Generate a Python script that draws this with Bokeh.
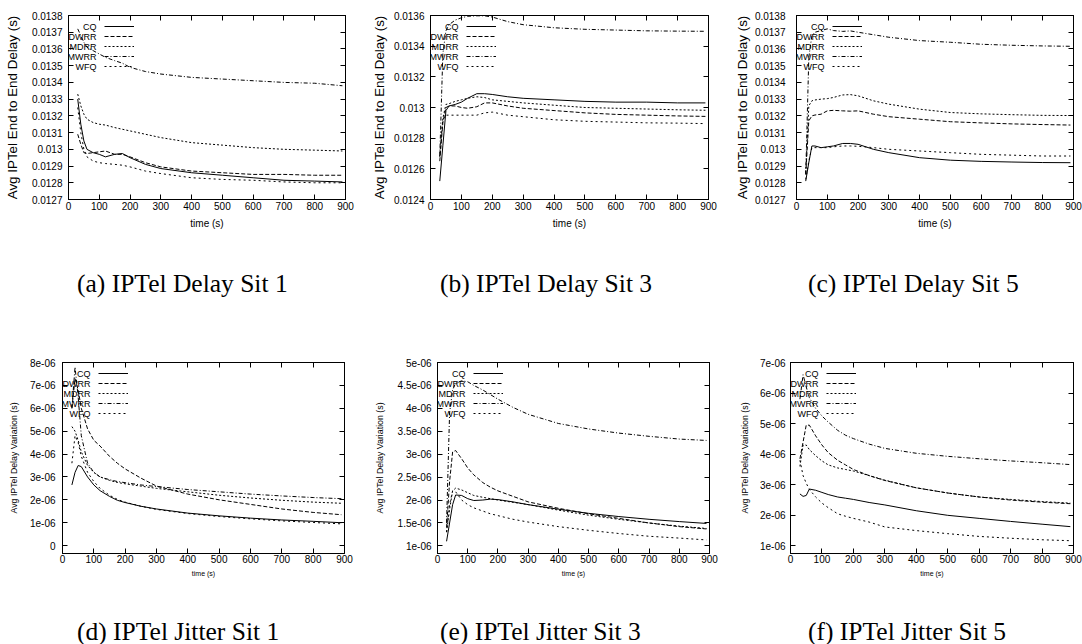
from bokeh.plotting import figure
from bokeh.models import (FixedTicker, LinearAxis, Range1d, Div, CustomJSTickFormatter,
                          Legend, LegendItem, Label)
from bokeh.core.properties import value
from bokeh.layouts import row, column
from bokeh.embed import file_html
from bokeh.resources import INLINE

# ---------------- data ----------------
X_GRID = [30, 40, 50, 60, 80, 100, 120, 150, 175, 200, 250, 300, 400, 500, 600, 700, 800, 890]

# (a) IPTel Delay Sit 1
A_CQ   = [0.01330, 0.01315, 0.01305, 0.01300, 0.01298, 0.01297, 0.012955, 0.01297, 0.012975, 0.01295, 0.01291, 0.012885, 0.01286, 0.012845, 0.01283, 0.012815, 0.01281, 0.012805]
A_DWRR = [0.01309, 0.01303, 0.01298, 0.012975, 0.01298, 0.012985, 0.01299, 0.01297, 0.01297, 0.012955, 0.01292, 0.012895, 0.01287, 0.01286, 0.01285, 0.01285, 0.012845, 0.012845]
A_MDRR = [0.01333, 0.01326, 0.01321, 0.01318, 0.01316, 0.01315, 0.013145, 0.01313, 0.01312, 0.01311, 0.01309, 0.01307, 0.01304, 0.013025, 0.01301, 0.01300, 0.012995, 0.01299]
A_MWRR = [0.01372, 0.01368, 0.01364, 0.01361, 0.01359, 0.01357, 0.01355, 0.01353, 0.013515, 0.01349, 0.013465, 0.01345, 0.01343, 0.01342, 0.01341, 0.01340, 0.013395, 0.01338]
A_WFQ  = [0.01325, 0.01310, 0.01300, 0.012955, 0.01293, 0.01292, 0.012915, 0.01291, 0.012905, 0.012895, 0.01287, 0.012855, 0.01283, 0.01282, 0.012815, 0.012805, 0.01280, 0.01280]

# (b) IPTel Delay Sit 3
B_CQ   = [0.01252, 0.01275, 0.01298, 0.01301, 0.01302, 0.013035, 0.01306, 0.01309, 0.01309, 0.013085, 0.01307, 0.01306, 0.01305, 0.01304, 0.013035, 0.013035, 0.01303, 0.01303]
B_DWRR = [0.01265, 0.01290, 0.01300, 0.01301, 0.01301, 0.01300, 0.012995, 0.013005, 0.01303, 0.01303, 0.01301, 0.012995, 0.01298, 0.012965, 0.012955, 0.01295, 0.012945, 0.012942]
B_MDRR = [0.01268, 0.01293, 0.01302, 0.013025, 0.01304, 0.01305, 0.01306, 0.01307, 0.013065, 0.01305, 0.01304, 0.01303, 0.013015, 0.01300, 0.012995, 0.01299, 0.012985, 0.012982]
B_MWRR = [0.01268, 0.01335, 0.01350, 0.01354, 0.01357, 0.013585, 0.013595, 0.013598, 0.013598, 0.01359, 0.01356, 0.01354, 0.01352, 0.01351, 0.013505, 0.01350, 0.013498, 0.013497]
B_WFQ  = [0.01270, 0.01292, 0.01295, 0.01295, 0.01295, 0.01295, 0.01295, 0.01295, 0.012965, 0.01297, 0.01295, 0.01294, 0.01292, 0.01291, 0.012905, 0.01290, 0.012898, 0.012895]

# (c) IPTel Delay Sit 5
C_CQ   = [0.01281, 0.01292, 0.01302, 0.01302, 0.01301, 0.013015, 0.01302, 0.013035, 0.013035, 0.01303, 0.01300, 0.01298, 0.01295, 0.012935, 0.012928, 0.012924, 0.012921, 0.01292]
C_DWRR = [0.01285, 0.01317, 0.01320, 0.013205, 0.01321, 0.01323, 0.013233, 0.01323, 0.013228, 0.01323, 0.01321, 0.013195, 0.01318, 0.013165, 0.013158, 0.013152, 0.013148, 0.013145]
C_MDRR = [0.01286, 0.01326, 0.01329, 0.013295, 0.01330, 0.013303, 0.01331, 0.013325, 0.013327, 0.01332, 0.01329, 0.01327, 0.01324, 0.01322, 0.013212, 0.013207, 0.013203, 0.013202]
C_MWRR = [0.01285, 0.01355, 0.01368, 0.01370, 0.01371, 0.01372, 0.01371, 0.013705, 0.013708, 0.01370, 0.013685, 0.01367, 0.01365, 0.01364, 0.013628, 0.013622, 0.013618, 0.013616]
C_WFQ  = [0.01282, 0.01293, 0.01301, 0.01301, 0.01301, 0.01301, 0.013015, 0.01302, 0.01302, 0.013018, 0.01301, 0.01300, 0.01299, 0.01298, 0.01297, 0.012965, 0.01296, 0.01296]

# (d) IPTel Jitter Sit 1
D_CQ   = [2.65e-6, 3.2e-6, 3.5e-6, 3.45e-6, 3.0e-6, 2.65e-6, 2.4e-6, 2.15e-6, 1.98e-6, 1.88e-6, 1.72e-6, 1.6e-6, 1.42e-6, 1.3e-6, 1.2e-6, 1.12e-6, 1.06e-6, 1.0e-6]
D_DWRR = [6.0e-6, 7.3e-6, 6.8e-6, 6.0e-6, 5.1e-6, 4.6e-6, 4.35e-6, 3.9e-6, 3.6e-6, 3.35e-6, 2.95e-6, 2.6e-6, 2.25e-6, 2.0e-6, 1.8e-6, 1.6e-6, 1.45e-6, 1.35e-6]
D_MDRR = [5.2e-6, 5.0e-6, 4.6e-6, 4.1e-6, 3.5e-6, 3.2e-6, 3.0e-6, 2.85e-6, 2.76e-6, 2.7e-6, 2.6e-6, 2.5e-6, 2.35e-6, 2.2e-6, 2.08e-6, 1.98e-6, 1.9e-6, 1.85e-6]
D_MWRR = [6.0e-6, 7.8e-6, 6.5e-6, 4.8e-6, 3.6e-6, 3.2e-6, 3.0e-6, 2.88e-6, 2.8e-6, 2.75e-6, 2.65e-6, 2.58e-6, 2.45e-6, 2.35e-6, 2.25e-6, 2.17e-6, 2.1e-6, 2.05e-6]
D_WFQ  = [3.6e-6, 4.8e-6, 4.5e-6, 3.9e-6, 3.2e-6, 2.8e-6, 2.5e-6, 2.2e-6, 2.02e-6, 1.9e-6, 1.72e-6, 1.58e-6, 1.4e-6, 1.27e-6, 1.17e-6, 1.08e-6, 1.01e-6, 0.95e-6]

# (e) IPTel Jitter Sit 3
E_CQ   = [1.1e-6, 1.5e-6, 1.9e-6, 2.11e-6, 2.1e-6, 2.03e-6, 1.99e-6, 2.0e-6, 2.02e-6, 2.01e-6, 1.96e-6, 1.9e-6, 1.8e-6, 1.71e-6, 1.64e-6, 1.58e-6, 1.53e-6, 1.49e-6]
E_DWRR = [1.4e-6, 2.4e-6, 3.05e-6, 3.08e-6, 2.9e-6, 2.7e-6, 2.55e-6, 2.38e-6, 2.28e-6, 2.2e-6, 2.08e-6, 1.96e-6, 1.82e-6, 1.7e-6, 1.6e-6, 1.5e-6, 1.42e-6, 1.37e-6]
E_MDRR = [1.3e-6, 1.8e-6, 2.2e-6, 2.26e-6, 2.22e-6, 2.16e-6, 2.1e-6, 2.06e-6, 2.03e-6, 2.0e-6, 1.95e-6, 1.9e-6, 1.78e-6, 1.67e-6, 1.58e-6, 1.5e-6, 1.43e-6, 1.38e-6]
E_MWRR = [1.5e-6, 3.9e-6, 4.4e-6, 4.55e-6, 4.6e-6, 4.58e-6, 4.5e-6, 4.4e-6, 4.3e-6, 4.2e-6, 4.02e-6, 3.87e-6, 3.67e-6, 3.55e-6, 3.46e-6, 3.39e-6, 3.33e-6, 3.3e-6]
E_WFQ  = [1.3e-6, 1.9e-6, 2.2e-6, 2.18e-6, 2.0e-6, 1.9e-6, 1.83e-6, 1.76e-6, 1.7e-6, 1.66e-6, 1.58e-6, 1.52e-6, 1.42e-6, 1.34e-6, 1.27e-6, 1.21e-6, 1.17e-6, 1.13e-6]

# (f) IPTel Jitter Sit 5
F_CQ   = [2.7e-6, 2.62e-6, 2.65e-6, 2.86e-6, 2.82e-6, 2.75e-6, 2.68e-6, 2.6e-6, 2.56e-6, 2.52e-6, 2.42e-6, 2.34e-6, 2.15e-6, 2.0e-6, 1.9e-6, 1.8e-6, 1.71e-6, 1.63e-6]
F_DWRR = [3.85e-6, 4.4e-6, 4.95e-6, 4.95e-6, 4.6e-6, 4.3e-6, 4.05e-6, 3.8e-6, 3.65e-6, 3.5e-6, 3.3e-6, 3.14e-6, 2.9e-6, 2.73e-6, 2.6e-6, 2.5e-6, 2.43e-6, 2.38e-6]
F_MDRR = [3.6e-6, 4.3e-6, 4.3e-6, 4.15e-6, 3.95e-6, 3.78e-6, 3.65e-6, 3.55e-6, 3.5e-6, 3.45e-6, 3.3e-6, 3.15e-6, 2.9e-6, 2.73e-6, 2.6e-6, 2.52e-6, 2.45e-6, 2.4e-6]
F_MWRR = [5.8e-6, 6.6e-6, 6.2e-6, 5.85e-6, 5.5e-6, 5.25e-6, 5.05e-6, 4.78e-6, 4.62e-6, 4.51e-6, 4.33e-6, 4.19e-6, 4.03e-6, 3.93e-6, 3.85e-6, 3.78e-6, 3.72e-6, 3.66e-6]
F_WFQ  = [3.8e-6, 3.3e-6, 3.05e-6, 2.85e-6, 2.6e-6, 2.4e-6, 2.25e-6, 2.05e-6, 1.97e-6, 1.9e-6, 1.78e-6, 1.62e-6, 1.5e-6, 1.4e-6, 1.31e-6, 1.25e-6, 1.2e-6, 1.17e-6]

SERIES_NAMES = ["CQ", "DWRR", "MDRR", "MWRR", "WFQ"]

X_TICKS = [0, 100, 200, 300, 400, 500, 600, 700, 800, 900]
X_TICK_LABELS = ["0", "100", "200", "300", "400", "500", "600", "700", "800", "900"]

DELAY13_TICKS = [0.0127, 0.0128, 0.0129, 0.013, 0.0131, 0.0132, 0.0133, 0.0134, 0.0135, 0.0136, 0.0137, 0.0138]
DELAY13_LABELS = ["0.0127", "0.0128", "0.0129", "0.013", "0.0131", "0.0132", "0.0133", "0.0134", "0.0135", "0.0136", "0.0137", "0.0138"]
DELAY3_TICKS = [0.0124, 0.0126, 0.0128, 0.013, 0.0132, 0.0134, 0.0136]
DELAY3_LABELS = ["0.0124", "0.0126", "0.0128", "0.013", "0.0132", "0.0134", "0.0136"]
JIT1_TICKS = [0.0, 1e-6, 2e-6, 3e-6, 4e-6, 5e-6, 6e-6, 7e-6, 8e-6]
JIT1_LABELS = ["0", "1e-06", "2e-06", "3e-06", "4e-06", "5e-06", "6e-06", "7e-06", "8e-06"]
JIT3_TICKS = [1e-6, 1.5e-6, 2e-6, 2.5e-6, 3e-6, 3.5e-6, 4e-6, 4.5e-6, 5e-6]
JIT3_LABELS = ["1e-06", "1.5e-06", "2e-06", "2.5e-06", "3e-06", "3.5e-06", "4e-06", "4.5e-06", "5e-06"]
JIT5_TICKS = [1e-6, 2e-6, 3e-6, 4e-6, 5e-6, 6e-6, 7e-6]
JIT5_LABELS = ["1e-06", "2e-06", "3e-06", "4e-06", "5e-06", "6e-06", "7e-06"]

CAPTIONS_TOP = ["(a) IPTel Delay Sit 1", "(b) IPTel Delay Sit 3", "(c) IPTel Delay Sit 5"]
CAPTIONS_BOTTOM = ["(d) IPTel Jitter Sit 1", "(e) IPTel Jitter Sit 3", "(f) IPTel Jitter Sit 5"]

# ---------------- styling ----------------
FONT = "Liberation Sans"
DASHES = {"CQ": "solid", "DWRR": "4 2", "MDRR": "2 2", "MWRR": "4 2 1 2", "WFQ": "2 3"}


def style_axis(ax, font_size):
    ax.major_tick_in = 5
    ax.major_tick_out = 0
    ax.minor_tick_line_color = None
    ax.axis_line_color = "black"
    ax.major_tick_line_color = "black"
    ax.major_label_text_font = FONT
    ax.major_label_text_font_size = font_size
    ax.major_label_text_color = "black"
    ax.axis_label_text_font = FONT
    ax.axis_label_text_font_style = "normal"
    ax.axis_label_text_color = "black"


def panel(series, y_lo, y_hi, yticks, ylabels, ylabel, width, height, bl, br, bt, bb,
          ytick_standoff, ylabel_standoff, ylabel_size, xlabel_size, xtick_standoff, xlabel_standoff):
    p = figure(width=width, height=height, output_backend="svg", toolbar_location=None,
               x_range=Range1d(0, 900), y_range=Range1d(y_lo, y_hi),
               min_border_left=bl, min_border_right=br, min_border_top=bt, min_border_bottom=bb)
    p.grid.visible = False
    p.outline_line_color = "black"
    p.outline_line_width = 1
    p.background_fill_color = "white"
    p.border_fill_color = "white"

    renderers = []
    for name, vals in zip(SERIES_NAMES, series):
        r = p.line(X_GRID, vals, line_color="black", line_width=1, line_dash=DASHES[name])
        renderers.append(r)

    xa = p.xaxis[0]
    xa.ticker = FixedTicker(ticks=X_TICKS)
    xa.major_label_overrides = dict(zip(X_TICKS, X_TICK_LABELS))
    xa.axis_label = "time (s)"
    style_axis(xa, "10px")
    xa.axis_label_text_font_size = xlabel_size
    xa.major_label_standoff = xtick_standoff
    xa.axis_label_standoff = xlabel_standoff

    ya = p.yaxis[0]
    ya.ticker = FixedTicker(ticks=yticks)
    ya.major_label_overrides = dict(zip(yticks, ylabels))
    ya.axis_label = ylabel
    style_axis(ya, "10px")
    ya.axis_label_text_font_size = ylabel_size
    ya.major_label_standoff = ytick_standoff
    ya.axis_label_standoff = ylabel_standoff

    # mirrored ticks on top and right (gnuplot style)
    for ticks, side in ((X_TICKS, "above"), (yticks, "right")):
        ax = LinearAxis(ticker=FixedTicker(ticks=ticks),
                        formatter=CustomJSTickFormatter(code="return ''"))
        style_axis(ax, "0px")
        ax.major_label_standoff = 0
        p.add_layout(ax, side)

    # gnuplot-style key: right-aligned names followed by line samples
    frame_h = height - bt - bb
    items = [LegendItem(label=value(""), renderers=[r]) for r in renderers]
    leg = Legend(items=items, location=(36, frame_h - 56), padding=0, margin=0, spacing=0,
                 glyph_width=30, glyph_height=10, label_height=10, label_width=0, label_standoff=0,
                 label_text_font_size="1px", background_fill_alpha=0, border_line_alpha=0)
    p.add_layout(leg, "center")
    for i, name in enumerate(SERIES_NAMES):
        p.add_layout(Label(x=28, y=frame_h - 11 - 10 * i, x_units="screen", y_units="screen",
                           text=name, text_align="right", text_baseline="middle",
                           text_font=FONT, text_font_size="9px", text_color="black"))
    return p


def caption(text, width, height, pad_left, pad_top):
    html = ('<div style="font-family:\'Liberation Serif\',serif;font-size:25.5px;line-height:25px;'
            f'padding-left:{pad_left}px;padding-top:{pad_top}px;white-space:nowrap;color:black">{text}</div>')
    return Div(text=html, width=width, height=height, margin=0)


DELAY_LABEL = "Avg IPTel End to End Delay (s)"
JIT_LABEL = "Avg IPTel Delay Variation (s)"

pa = panel([A_CQ, A_DWRR, A_MDRR, A_MWRR, A_WFQ], 0.0127, 0.0138, DELAY13_TICKS, DELAY13_LABELS, DELAY_LABEL,
           368, 233, 68, 23, 15, 34, 6, 9, "13.4px", "10px", 2, 5)
pb = panel([B_CQ, B_DWRR, B_MDRR, B_MWRR, B_WFQ], 0.0124, 0.0136, DELAY3_TICKS, DELAY3_LABELS, DELAY_LABEL,
           360, 233, 60, 20, 15, 34, 6, 4, "13.4px", "10px", 2, 5)
pc = panel([C_CQ, C_DWRR, C_MDRR, C_MWRR, C_WFQ], 0.0127, 0.0138, DELAY13_TICKS, DELAY13_LABELS, DELAY_LABEL,
           354, 233, 68, 9, 15, 34, 11, 2, "13.4px", "10px", 2, 5)

pd = panel([D_CQ, D_DWRR, D_MDRR, D_MWRR, D_WFQ], -0.345e-6, 8e-6, JIT1_TICKS, JIT1_LABELS, JIT_LABEL,
           368, 260, 62, 24, 42, 27, 7, 8, "8.8px", "7px", 1, 4)
pe = panel([E_CQ, E_DWRR, E_MDRR, E_MWRR, E_WFQ], 0.834e-6, 5e-6, JIT3_TICKS, JIT3_LABELS, JIT_LABEL,
           360, 260, 69, 19, 42, 27, 6, 10, "8.8px", "7px", 1, 4)
pf = panel([F_CQ, F_DWRR, F_MDRR, F_MWRR, F_WFQ], 0.751e-6, 7e-6, JIT5_TICKS, JIT5_LABELS, JIT_LABEL,
           354, 260, 62, 9, 42, 27, 5, 7, "8.8px", "7px", 1, 4)

cap_top = [caption(t, w, 87, pl, 38) for t, w, pl in zip(CAPTIONS_TOP, [368, 360, 354], [77, 72, 80])]
cap_bot = [caption(t, w, 64, pl, 39) for t, w, pl in zip(CAPTIONS_BOTTOM, [368, 360, 354], [77, 72, 80])]

layout = column(row(pa, pb, pc), row(*cap_top), row(pd, pe, pf), row(*cap_bot))

open("out.html", "w").write(file_html(layout, INLINE))
